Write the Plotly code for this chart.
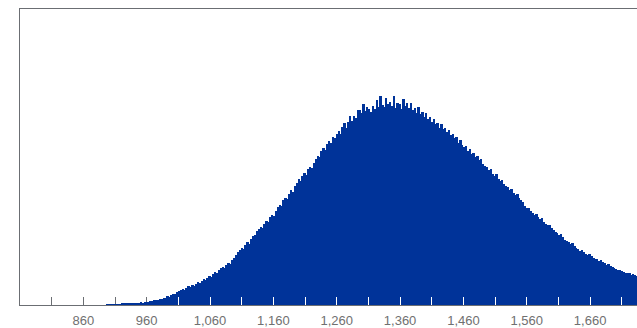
import plotly.graph_objects as go

# Histogram bins: start and width (in x units)
BIN_START = 896
BIN_WIDTH = 3

# Bin heights (in pixel-ish count units)
COUNTS = [
    0.3, 0.4, 0.6, 0.5, 0.8, 0.7, 1.0, 0.9, 1.2, 1.1,
    1.4, 1.3, 1.7, 1.6, 2.0, 1.8, 2.3, 2.1, 2.6, 2.5,
    3.0, 2.8, 3.5, 3.9, 3.6, 4.6, 5.0, 4.7, 5.8, 6.1,
    6.8, 7.5, 9.0, 8.4, 9.8, 11.3, 10.7, 13.2, 14.6, 14.9,
    16.0, 15.4, 17.6, 19.0, 18.2, 20.1, 19.5, 21.4, 23.0, 22.2,
    24.0, 25.8, 24.9, 27.3, 29.5, 28.4, 31.0, 33.2, 32.1, 35.6,
    37.0, 38.4, 37.6, 40.9, 42.8, 41.5, 45.3, 47.9, 50.4, 53.8,
    55.2, 57.9, 56.4, 60.8, 63.5, 62.1, 67.0, 69.4, 71.2, 74.8,
    76.5, 78.9, 77.3, 82.0, 85.1, 83.7, 88.6, 91.2, 90.0, 95.3,
    98.7, 101.5, 100.2, 105.8, 108.4, 107.0, 112.6, 115.9, 114.3, 120.5,
    123.2, 126.8, 125.0, 130.6, 133.1, 131.2, 136.9, 139.4, 138.0, 143.5,
    147.2, 150.8, 149.0, 155.9, 158.6, 156.1, 162.4, 165.7, 163.2, 170.1,
    168.4, 172.9, 176.0, 173.2, 179.5, 183.8, 178.9, 185.3, 190.6, 186.1,
    191.4, 189.0, 196.7, 197.3, 193.8, 202.6, 196.2, 200.5, 197.9, 195.4,
    201.3, 198.2, 206.6, 200.1, 210.8, 202.4, 199.7, 209.2, 203.0, 205.1,
    201.5, 211.0, 199.2, 204.3, 202.6, 197.8, 208.4, 200.9, 203.7, 198.6,
    204.2, 197.0, 199.5, 194.3, 200.1, 192.6, 195.0, 190.4, 194.2, 188.0,
    189.5, 185.1, 188.0, 182.6, 184.2, 179.3, 182.8, 177.5, 178.9, 174.6,
    176.3, 171.8, 173.0, 168.2, 169.6, 164.0, 166.3, 161.5, 159.2, 160.4,
    156.0, 157.5, 152.3, 153.8, 149.1, 150.4, 146.0, 147.8, 142.5, 140.9,
    139.0, 136.2, 137.5, 132.8, 130.4, 131.9, 127.3, 125.0, 126.4, 122.0,
    120.5, 118.7, 116.0, 117.3, 113.2, 111.5, 112.4, 108.0, 106.3, 104.1,
    100.2, 97.5, 98.3, 94.6, 93.1, 91.4, 92.0, 88.5, 86.9, 87.4,
    84.3, 82.0, 80.5, 81.2, 77.6, 76.0, 74.2, 72.9, 70.6, 71.3,
    68.4, 66.1, 64.9, 63.3, 61.8, 62.4, 59.6, 57.9, 56.5, 55.0,
    55.6, 53.2, 52.0, 50.7, 51.4, 49.0, 47.8, 46.3, 46.9, 44.6,
    45.2, 43.1, 42.0, 40.8, 41.5, 39.2, 38.4, 37.1, 36.3, 35.0,
    35.8, 34.1, 33.4, 32.6, 31.9, 32.3, 30.8, 31.2, 30.1, 29.8,
]

X_RANGE = [760, 1734]
Y_RANGE = [0, 299]
TICK_VALUES = [810, 860, 910, 960, 1010, 1060, 1110, 1160, 1210, 1260, 1310,
               1360, 1410, 1460, 1510, 1560, 1610, 1660, 1710]
LABEL_VALUES = [860, 960, 1060, 1160, 1260, 1360, 1460, 1560, 1660]
TICK_LABELS = ["860", "960", "1,060", "1,160", "1,260", "1,360", "1,460", "1,560", "1,660"]

BAR_COLOR = "#003399"
AXIS_GRAY = "#6b6e73"

centers = [BIN_START + BIN_WIDTH * (i + 0.5) for i in range(len(COUNTS))]
label_map = dict(zip(LABEL_VALUES, TICK_LABELS))
ticktext = [label_map.get(v, "") for v in TICK_VALUES]

# white ticks only where the bar is taller than the tick
TICK_LEN = 8
def height_at(v):
    i = int((v - BIN_START) // BIN_WIDTH)
    if 0 <= i < len(COUNTS):
        return COUNTS[i]
    return 0
white_ticks = [v for v in TICK_VALUES if height_at(v) > TICK_LEN]

fig = go.Figure()
fig.add_trace(go.Bar(
    x=centers, y=COUNTS, width=BIN_WIDTH,
    marker=dict(color=BAR_COLOR, line=dict(width=0)),
    hoverinfo="skip",
))
# empty trace so the overlay axis (white ticks) is drawn
fig.add_trace(go.Scatter(x=[None], y=[None], xaxis="x2", yaxis="y",
                         mode="markers", hoverinfo="skip", showlegend=False))

fig.update_layout(
    width=637, height=328,
    margin=dict(l=20, r=0, t=9, b=20),
    paper_bgcolor="white", plot_bgcolor="white",
    bargap=0, showlegend=False,
    font=dict(family="Liberation Sans, Arial, sans-serif", size=13, color="#707070"),
    xaxis=dict(
        range=X_RANGE, tickmode="array", tickvals=TICK_VALUES, ticktext=ticktext,
        ticks="inside", ticklen=TICK_LEN, tickwidth=1, tickcolor=AXIS_GRAY,
        showgrid=False, zeroline=False, showline=True, linecolor=AXIS_GRAY,
        linewidth=1, mirror=True, layer="below traces", ticklabelstandoff=3,
    ),
    xaxis2=dict(
        range=X_RANGE, overlaying="x", anchor="y", side="bottom",
        tickmode="array", tickvals=white_ticks, ticktext=[""] * len(white_ticks),
        ticks="inside", ticklen=TICK_LEN, tickwidth=1, tickcolor="white",
        showgrid=False, zeroline=False, showline=True, linecolor=AXIS_GRAY,
        linewidth=1, layer="above traces", showticklabels=False,
    ),
    yaxis=dict(
        range=Y_RANGE, showticklabels=False, ticks="", showgrid=False,
        zeroline=False, showline=True, linecolor=AXIS_GRAY, linewidth=1,
    ),
)

fig.write_html("out.html", config={"displayModeBar": False},
               post_script="document.body.style.margin='0';")
